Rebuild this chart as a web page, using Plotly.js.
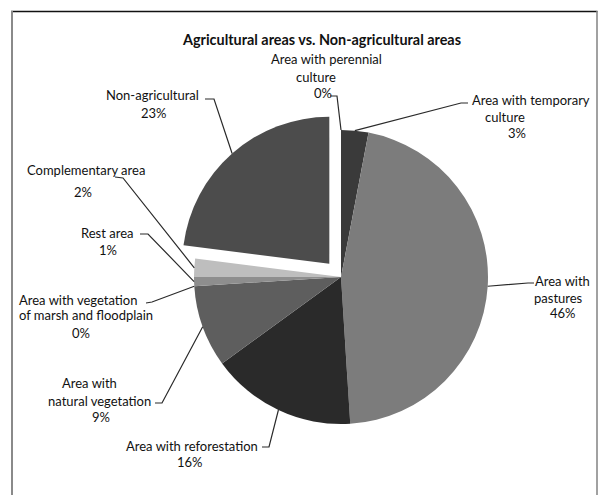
<!DOCTYPE html>
<html>
<head>
<meta charset="utf-8">
<script src="https://cdn.plot.ly/plotly-3.0.1.min.js"></script>
<style>
  html, body { margin: 0; padding: 0; background: #ffffff; }
  #chart { width: 598px; height: 495px; }
</style>
</head>
<body>
<div id="chart"></div>
<script>
// Land use shares (%), listed clockwise from 12 o'clock
const categories = [
  'Area with perennial culture',
  'Area with temporary culture',
  'Area with pastures',
  'Area with reforestation',
  'Area with natural vegetation',
  'Area with vegetation of marsh and floodplain',
  'Rest area',
  'Complementary area',
  'Non-agricultural'
];
const shares = [0, 3, 46, 16, 9, 0, 1, 2, 23];

// Wrapped label text for each slice (the percentage line is appended from shares)
const labelLines = [
  ['Area with perennial', 'culture'],
  ['Area with temporary', 'culture'],
  ['Area with', 'pastures'],
  ['Area with reforestation'],
  ['Area with', 'natural vegetation'],
  ['Area with vegetation', 'of marsh and floodplain'],
  ['Rest area'],
  ['Complementary area'],
  ['Non-agricultural']
];

const chartTitle = 'Agricultural areas vs. Non-agricultural areas';

// ---- styling ----
const sliceColors = ['#6a6a6a', '#3a3a3a', '#7c7c7c', '#2a2a2a', '#5e5e5e',
                     '#707070', '#8e8e8e', '#bebebe', '#4c4c4c'];
const slicePull = [0, 0, 0, 0, 0, 0, 0, 0, 0.12];

const W = 598, H = 495;
const pie = { cx: 341, cy: 277, r: 147 };
const maxPull = Math.max.apply(null, slicePull);
const half = pie.r * (1 + maxPull);

const px = x => x / W;
const py = y => 1 - y / H;

// Label placement in pixels: each text line [x, y, anchor], leader start and elbow
const placement = [
  { lines: [[326, 59, 'center'], [316, 77, 'center'], [323, 93, 'center']], lead: [[330, 96], [337, 96]] },
  { lines: [[470, 100, 'left'], [505, 117, 'center'], [517, 133, 'center']], lead: [[468, 103], [461, 103]] },
  { lines: [[562, 281, 'center'], [558, 298, 'center'], [563, 313, 'center']], lead: [[534, 283], [528, 283]] },
  { lines: [[260, 446, 'right'], [190, 462, 'center']], lead: [[262, 447], [269, 447]] },
  { lines: [[119, 383, 'right'], [153, 401, 'right'], [101, 417, 'center']], lead: [[155, 403], [162, 403]] },
  { lines: [[17, 300, 'left'], [17, 315, 'left'], [81, 333, 'center']], lead: [[146, 303], [152, 302]] },
  { lines: [[107, 233, 'center'], [108, 250, 'center']], lead: [[140, 234], [148, 234]] },
  { lines: [[86, 170, 'center'], [83, 192, 'center']], lead: [[115, 177], [123, 178]] },
  { lines: [[152, 95, 'center'], [154, 113, 'center']], lead: [[205, 99], [214, 99]] }
];

const labelFont = { family: 'Lato, "Open Sans", sans-serif', size: 13, color: '#111111' };

// Point on the outer edge at the middle of each slice (including its pull)
const total = shares.reduce((a, b) => a + b, 0);
let cum = 0;
const tips = shares.map((v, i) => {
  const mid = (cum + v / 2) / total;
  cum += v;
  const a = 2 * Math.PI * mid;
  const d = pie.r * (1 + slicePull[i]);
  return [pie.cx + d * Math.sin(a), pie.cy - d * Math.cos(a)];
});

const annotations = [];
const shapes = [];

categories.forEach((name, i) => {
  const texts = labelLines[i].concat([shares[i] + '%']);
  texts.forEach((t, k) => {
    const p = placement[i].lines[k];
    annotations.push({
      xref: 'paper', yref: 'paper',
      x: px(p[0]), y: py(p[1]),
      xanchor: p[2], yanchor: 'middle',
      text: t, showarrow: false,
      font: labelFont
    });
  });
  const s = placement[i].lead[0], e = placement[i].lead[1], t = tips[i];
  shapes.push({
    type: 'path', xref: 'paper', yref: 'paper',
    path: 'M ' + px(s[0]) + ',' + py(s[1]) +
          ' L ' + px(e[0]) + ',' + py(e[1]) +
          ' L ' + px(t[0]) + ',' + py(t[1]),
    line: { color: '#2a2a2a', width: 1.2 }
  });
});

// frame around the chart
shapes.push({ type: 'line', xref: 'paper', yref: 'paper',
  x0: px(11), y0: py(11.5), x1: px(597.5), y1: py(11.5), line: { color: '#111111', width: 1.6 } });
shapes.push({ type: 'line', xref: 'paper', yref: 'paper',
  x0: px(12), y0: py(11), x1: px(12), y1: py(495), line: { color: '#8a8a8a', width: 2 } });
shapes.push({ type: 'line', xref: 'paper', yref: 'paper',
  x0: px(597), y0: py(11), x1: px(597), y1: py(495), line: { color: '#8a8a8a', width: 1.6 } });

const data = [{
  type: 'pie',
  labels: categories,
  values: shares,
  sort: false,
  direction: 'clockwise',
  rotation: 0,
  pull: slicePull,
  textinfo: 'none',
  hoverinfo: 'label+percent',
  marker: { colors: sliceColors, line: { width: 0 } },
  domain: {
    x: [px(pie.cx - half), px(pie.cx + half)],
    y: [py(pie.cy + half), py(pie.cy - half)]
  }
}];

const layout = {
  width: W, height: H,
  margin: { l: 0, r: 0, t: 0, b: 0 },
  paper_bgcolor: '#ffffff',
  showlegend: false,
  title: {
    text: '<b>' + chartTitle + '</b>',
    x: px(322), xanchor: 'center',
    y: py(40), yanchor: 'middle',
    font: { family: 'Lato, "Open Sans", sans-serif', size: 14.4, color: '#111111' }
  },
  annotations: annotations,
  shapes: shapes
};

Plotly.newPlot('chart', data, layout, { displayModeBar: false, staticPlot: true });
</script>
</body>
</html>
